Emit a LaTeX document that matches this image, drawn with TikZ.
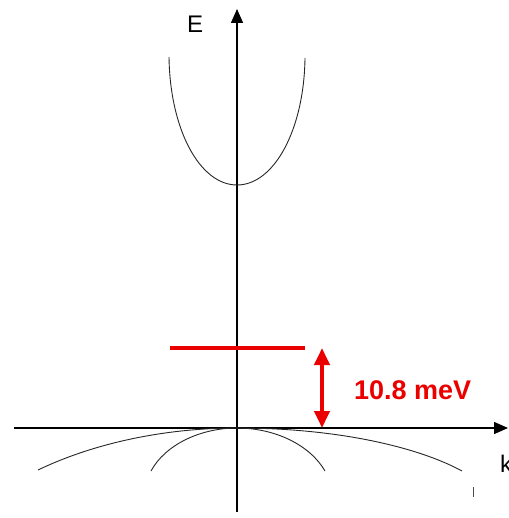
\documentclass[tikz,border=0pt]{standalone}
\usepackage{fontspec}
\setmainfont{Liberation Sans}
\usetikzlibrary{arrows.meta}
\definecolor{bandred}{RGB}{235,0,0}
\begin{document}
\begin{tikzpicture}[x=1pt,y=-1pt,
  axis/.style={line width=1.4pt,black,-{Triangle[length=14pt,width=12pt]}},
  band/.style={line width=0.9pt,black!85},
  lbl/.style={inner sep=0pt,font=\fontsize{24}{28}\selectfont},
  redlbl/.style={inner sep=0pt,text=bandred,font=\fontsize{27}{30}\selectfont\bfseries},
  level/.style={line width=4pt,bandred},
  gap/.style={line width=4pt,bandred,{Triangle[length=17pt,width=15pt]}-{Triangle[length=17pt,width=15pt]}}]
\useasboundingbox (0,0) rectangle (508,518);
\coordinate (o) at (237,428);
\coordinate (ybot) at (237,512);
\coordinate (ytop) at (237,9);
\coordinate (xl) at (14,428);
\coordinate (xr) at (508,428);
\draw[axis] (ybot) -- (ytop);
\draw[axis] (xl) -- (xr);
\node[lbl] (E) at (195,24) {E};
\node[lbl,anchor=west] (k) at (500,464) {k};
% conduction band
\coordinate (cl) at (169,57);
\coordinate (cv) at (237,185);
\coordinate (cr) at (305,58);
\draw[band] (cl) .. controls (170,130) and (200,185) .. (cv) .. controls (274,185) and (304,130) .. (cr);
% valence bands
\coordinate (hl) at (38,470);
\coordinate (hr) at (462,471);
\coordinate (ll) at (151,471);
\coordinate (lr) at (325,471);
\draw[band] (o) .. controls (340,428) and (420,448) .. (hr);
\draw[band] (o) .. controls (160,428) and (90,445) .. (hl);
\draw[band] (o) .. controls (275,428) and (310,445) .. (lr);
\draw[band] (o) .. controls (200,428) and (165,445) .. (ll);
% exciton level
\coordinate (a) at (170,348);
\coordinate (b) at (305,348);
\draw[level] (a) -- (b);
\coordinate (gt) at (322,348);
\coordinate (gb) at (322,428);
\draw[gap] (gt) -- (gb);
\node[redlbl,anchor=west] (val) at (354,390) {10.8 meV};
% small mark
\coordinate (m1) at (473,487);
\coordinate (m2) at (473,497);
\draw[line width=0.8pt,black!70] (m1) -- (m2);
\end{tikzpicture}
\end{document}
